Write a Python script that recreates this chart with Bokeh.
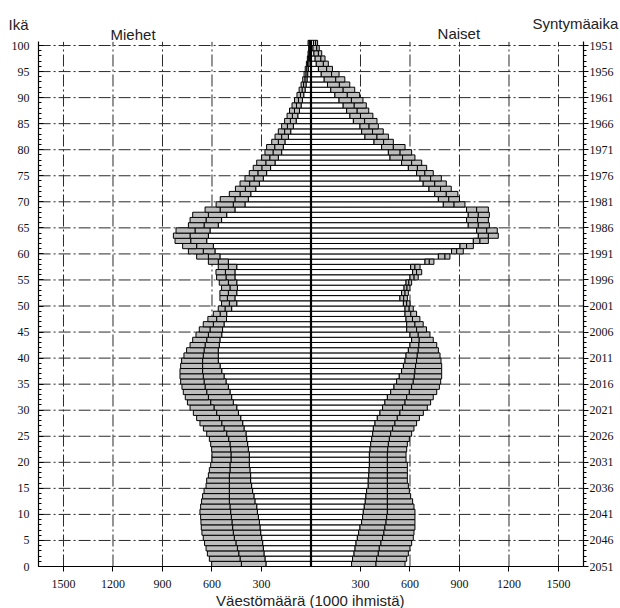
from bokeh.plotting import figure
from bokeh.models import Range1d, LinearAxis, FixedTicker, Label, ColumnDataSource
from bokeh.embed import file_html
from bokeh.resources import INLINE

ages = list(range(101))

male_white = [273, 279, 285, 289, 293, 299, 305, 309, 313, 319,
              325, 329, 340, 346, 354, 360, 366, 366, 370, 374,
              374, 374, 380, 384, 390, 394, 406, 414, 426, 440,
              450, 471, 481, 491, 501, 515, 527, 541, 551, 562,
              562, 562, 556, 552, 541, 536, 527, 512, 511, 481,
              450, 461, 450, 446, 450, 461, 461, 450, 501, 552,
              582, 592, 632, 622, 612, 562, 542, 511, 461, 400,
              380, 365, 335, 313, 289, 269, 245, 218, 198, 178,
              168, 158, 137, 123, 107, 90, 80, 70, 60, 52,
              44, 36, 30, 24, 20, 16, 13, 10, 8, 6, 7]
male_mid = [422, 430, 438, 446, 455, 465, 471, 475, 479, 483,
            487, 491, 495, 495, 495, 495, 495, 495, 491, 491,
            485, 485, 487, 491, 499, 511, 527, 541, 555, 572,
            588, 608, 622, 632, 642, 648, 653, 657, 657, 657,
            653, 648, 642, 632, 622, 612, 592, 572, 551, 521,
            495, 507, 501, 491, 501, 515, 519, 501, 562, 622,
            653, 693, 729, 733, 703, 648, 636, 622, 551, 471,
            461, 430, 398, 372, 345, 322, 298, 274, 250, 230,
            220, 198, 178, 160, 143, 125, 113, 100, 88, 76,
            64, 54, 45, 37, 31, 26, 21, 16, 13, 10, 12]
male_outer = [602, 616, 628, 636, 645, 653, 661, 665, 667, 669,
              673, 669, 663, 657, 648, 636, 632, 622, 616, 608,
              600, 600, 602, 608, 616, 632, 652, 673, 693, 713,
              733, 749, 762, 774, 782, 790, 794, 794, 790, 784,
              770, 754, 733, 717, 697, 677, 653, 625, 592, 562,
              542, 552, 552, 542, 556, 572, 576, 562, 622, 693,
              743, 778, 824, 834, 818, 743, 733, 717, 642, 575,
              550, 495, 458, 430, 400, 374, 350, 329, 299, 279,
              269, 238, 218, 198, 178, 160, 145, 130, 115, 100,
              85, 72, 60, 50, 42, 35, 28, 22, 18, 14, 18]

female_white = [246, 252, 261, 267, 273, 281, 289, 297, 307, 313,
                317, 323, 329, 333, 337, 347, 347, 350, 352, 354,
                354, 354, 358, 362, 368, 374, 378, 388, 402, 418,
                434, 448, 463, 483, 503, 519, 535, 549, 560, 570,
                576, 590, 600, 610, 600, 580, 580, 576, 570, 570,
                560, 539, 549, 564, 576, 600, 616, 604, 691, 772,
                852, 903, 984, 1014, 1004, 953, 943, 953, 943, 802,
                772, 750, 715, 680, 661, 640, 590, 549, 479, 469,
                428, 382, 327, 307, 297, 257, 236, 216, 195, 170,
                145, 120, 100, 80, 62, 45, 32, 25, 18, 12, 15]
female_mid = [394, 398, 408, 414, 424, 434, 442, 448, 455, 459,
              463, 463, 463, 463, 463, 463, 463, 463, 463, 463,
              463, 463, 465, 469, 475, 483, 495, 509, 523, 539,
              555, 570, 580, 596, 610, 620, 626, 630, 634, 640,
              644, 650, 654, 656, 650, 640, 630, 615, 605, 595,
              580, 562, 570, 582, 593, 625, 640, 630, 717, 812,
              883, 943, 1024, 1075, 1065, 1014, 1010, 1014, 1004, 867,
              835, 820, 785, 750, 725, 690, 645, 610, 555, 540,
              499, 440, 400, 373, 352, 325, 300, 280, 262, 245,
              220, 195, 172, 150, 125, 95, 75, 60, 45, 35, 28]
female_outer = [570, 580, 590, 600, 610, 620, 624, 630, 630, 630,
                630, 624, 616, 604, 596, 590, 584, 584, 584, 584,
                576, 576, 580, 584, 596, 610, 624, 640, 657, 681,
                705, 725, 741, 762, 778, 786, 792, 792, 792, 788,
                782, 772, 762, 741, 721, 700, 680, 660, 640, 620,
                600, 584, 590, 600, 610, 650, 671, 661, 745, 842,
                923, 984, 1075, 1135, 1129, 1081, 1075, 1081, 1075, 933,
                900, 890, 850, 820, 790, 741, 701, 671, 630, 610,
                570, 499, 469, 438, 408, 400, 375, 350, 335, 315,
                295, 265, 235, 205, 170, 130, 105, 85, 65, 50, 40]

x_ticks = [-1500, -1200, -900, -600, -300, 300, 600, 900, 1200, 1500]
x_tick_labels = ["1500", "1200", "900", "600", "300", "300", "600", "900", "1200", "1500"]
age_ticks = [0, 5, 10, 15, 20, 25, 30, 35, 40, 45, 50, 55, 60, 65, 70, 75, 80, 85, 90, 95, 100]
age_tick_labels = ["0", "5", "10", "15", "20", "25", "30", "35", "40", "45", "50",
                   "55", "60", "65", "70", "75", "80", "85", "90", "95", "100"]
year_tick_labels = ["2051", "2046", "2041", "2036", "2031", "2026", "2021", "2016", "2011", "2006",
                    "2001", "1996", "1991", "1986", "1981", "1976", "1971", "1966", "1961", "1956", "1951"]

# layout constants (plot box in data units; the frame covers the whole canvas)
X_LIM = 1651
AGE_TOP = 100.7
BAR_TOP = 101
GRAY = "#bdbdbd"
SERIF = "Liberation Serif"
SANS = "Liberation Sans"

src = ColumnDataSource(dict(
    yc=[a + 0.5 for a in ages],
    m_w=[-v for v in male_white], m_d=[-v for v in male_mid], m_o=[-v for v in male_outer],
    f_w=female_white, f_d=female_mid, f_o=female_outer,
))

p = figure(width=620, height=608, x_range=Range1d(-1881.8, 1875.8), y_range=Range1d(-8.06, 108.64),
           output_backend="svg", toolbar_location=None,
           x_axis_location=None, y_axis_location=None, min_border=0)
p.outline_line_color = None
p.background_fill_color = "white"
p.border_fill_color = "white"
p.xgrid.visible = False
p.ygrid.visible = False

# grid lines (dash-dot), limited to the plot box
hgrid = ColumnDataSource(dict(y=age_ticks[1:]))
vgrid = ColumnDataSource(dict(x=x_ticks))
p.segment(x0=-X_LIM, x1=X_LIM, y0="y", y1="y", source=hgrid,
          line_color="#2a2a2a", line_dash="12 3 2 3", line_width=1)
p.segment(x0="x", x1="x", y0=0, y1=AGE_TOP, source=vgrid,
          line_color="#2a2a2a", line_dash="12 3 2 3", line_width=1)

# bottom axis
xa = LinearAxis(fixed_location=0, bounds=(-X_LIM, X_LIM), ticker=FixedTicker(ticks=x_ticks),
                major_label_overrides={t: l for t, l in zip(x_ticks, x_tick_labels)})
xa.major_tick_in = 0
xa.major_tick_out = 5
xa.minor_tick_line_color = None
xa.major_label_standoff = 8
p.add_layout(xa, "below")

# left axis (age)
ya = LinearAxis(fixed_location=-X_LIM, bounds=(0, AGE_TOP),
                ticker=FixedTicker(ticks=age_ticks, minor_ticks=ages),
                major_label_overrides={t: l for t, l in zip(age_ticks, age_tick_labels)})
ya.major_tick_in = 5
ya.major_tick_out = 0
ya.minor_tick_in = 3
ya.minor_tick_out = 0
ya.major_label_standoff = 9
p.add_layout(ya, "left")

# right axis (birth year)
ra = LinearAxis(fixed_location=X_LIM, bounds=(0, AGE_TOP),
                ticker=FixedTicker(ticks=age_ticks, minor_ticks=ages),
                major_label_overrides={t: l for t, l in zip(age_ticks, year_tick_labels)})
ra.major_tick_in = 0
ra.major_tick_out = 5
ra.minor_tick_in = 0
ra.minor_tick_out = 3
ra.major_label_standoff = 1
p.add_layout(ra, "right")

for ax in (xa, ya, ra):
    ax.axis_line_color = "black"
    ax.axis_line_width = 1.2
    ax.major_tick_line_color = "black"
    if ax is not xa:
        ax.minor_tick_line_color = "black"
    ax.major_label_text_font = SERIF
    ax.major_label_text_font_size = "12px"
    ax.major_label_text_color = "#111111"

# bars: men (left)
p.hbar(y="yc", height=1, left="m_w", right=0, source=src, fill_color="white", line_color="black", line_width=1)
p.hbar(y="yc", height=1, left="m_d", right="m_w", source=src, fill_color=GRAY, line_color="black", line_width=1)
p.hbar(y="yc", height=1, left="m_o", right="m_d", source=src, fill_color=GRAY, line_color="black", line_width=1)
# bars: women (right)
p.hbar(y="yc", height=1, left=0, right="f_w", source=src, fill_color="white", line_color="black", line_width=1)
p.hbar(y="yc", height=1, left="f_w", right="f_d", source=src, fill_color=GRAY, line_color="black", line_width=1)
p.hbar(y="yc", height=1, left="f_d", right="f_o", source=src, fill_color=GRAY, line_color="black", line_width=1)

# zero line
p.segment(x0=0, x1=0, y0=0, y1=BAR_TOP, line_color="black", line_width=2.2)


def lab(x, y, text, align="left"):
    p.add_layout(Label(x=x, y=y, text=text, text_font=SANS, text_font_size="15px",
                       text_color="#222222", text_align=align, text_baseline="alphabetic",
                       level="overlay"))


lab(-1833, 104.0, "Ikä")
lab(-1215, 102.1, "Miehet")
lab(767, 102.3, "Naiset")
lab(1342, 104.2, "Syntymäaika")
lab(21, -6.55, "Väestömäärä  (1000  ihmistä)", align="center")

open("out.html", "w").write(file_html(p, INLINE))
